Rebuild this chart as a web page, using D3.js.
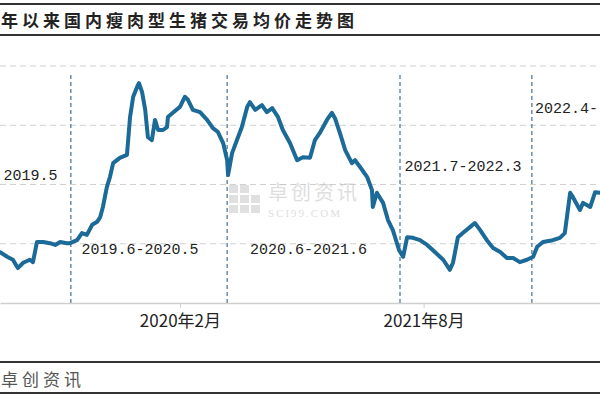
<!DOCTYPE html>
<html><head><meta charset="utf-8">
<script src="https://cdn.jsdelivr.net/npm/d3@7"></script>
<style>
html,body{margin:0;padding:0;background:#fff;}
svg{display:block;}
</style></head>
<body>
<svg id="c" width="600" height="400"></svg>
<script>
const title = "年以来国内瘦肉型生猪交易均价走势图";
const source = "卓创资讯";
const tickDates = ["2020-02-01", "2021-08-01"];
const tickLabels = ["2020年2月", "2021年8月"];
const dividerDates = ["2019-06-01", "2020-05-17", "2021-06-09", "2022-04-01"];
const periodLabels = ["2019.5", "2019.6-2020.5", "2020.6-2021.6", "2021.7-2022.3", "2022.4-"];
const periodLabelDates = ["2019-05-02", "2019-06-25", "2020-07-07", "2021-06-19", "2022-04-08"];
const periodLabelValues = [25.8, 13.3, 13.3, 27.2, 37.0];
const gridValues = [15, 25, 35, 45];
const dates = [
"2018-12-24","2019-01-09","2019-01-22","2019-02-02","2019-02-14","2019-03-01","2019-03-08","2019-03-17","2019-03-31","2019-04-15",
"2019-04-27","2019-05-08","2019-05-23","2019-05-30","2019-06-15","2019-06-26","2019-07-07","2019-07-19","2019-07-30","2019-08-06",
"2019-08-12","2019-08-21","2019-08-28","2019-09-04","2019-09-19","2019-10-05","2019-10-12","2019-10-19","2019-10-28","2019-11-01",
"2019-11-08","2019-11-15","2019-11-21","2019-11-30","2019-12-07","2019-12-14","2019-12-25","2020-01-03","2020-01-05","2020-01-16",
"2020-02-01","2020-02-12","2020-02-19","2020-03-01","2020-03-17","2020-04-02","2020-04-15","2020-04-26","2020-05-08","2020-05-17",
"2020-05-19","2020-05-28","2020-06-08","2020-06-19","2020-07-01","2020-07-07","2020-07-19","2020-08-03","2020-08-14","2020-08-26",
"2020-09-08","2020-09-19","2020-10-05","2020-10-21","2020-11-03","2020-11-19","2020-11-30","2020-12-11","2020-12-27","2021-01-07",
"2021-01-14","2021-01-25","2021-02-06","2021-02-21","2021-02-28","2021-03-11","2021-03-27","2021-04-07","2021-04-09","2021-04-18",
"2021-05-02","2021-05-13","2021-05-24","2021-06-07","2021-06-16","2021-06-25","2021-07-08","2021-07-24","2021-08-09","2021-08-22",
"2021-09-14","2021-09-29","2021-10-06","2021-10-17","2021-10-28","2021-11-13","2021-11-24","2021-12-06","2021-12-21","2022-01-04",
"2022-01-20","2022-02-04","2022-02-18","2022-03-05","2022-03-21","2022-04-04","2022-04-13","2022-04-26","2022-05-18","2022-06-03",
"2022-06-14","2022-06-26","2022-07-02","2022-07-18","2022-07-25","2022-08-10","2022-08-21","2022-09-01"];
const prices = [
13.6,12.8,12.3,10.9,11.8,12.3,11.9,15.3,15.3,15.1,
14.8,15.3,15.1,15.1,15.6,16.8,16.5,18.2,18.7,19.5,
21.2,24.6,26.3,28.6,29.5,30.0,36.4,39.8,41.5,42.1,
40.6,37.6,33.0,32.5,35.9,34.2,34.2,34.7,36.4,37.1,
38.1,39.8,39.3,37.6,37.2,35.9,34.5,33.9,32.0,29.1,
26.6,30.3,32.5,34.7,38.1,38.9,37.6,38.4,37.2,37.9,
36.4,34.2,32.0,29.1,29.6,29.5,32.5,33.7,35.9,37.1,
36.2,33.7,30.8,28.6,29.1,28.0,26.3,24.1,21.2,23.6,
21.9,19.0,17.3,13.9,12.8,16.1,16.0,15.6,14.8,13.9,
12.3,10.6,11.8,16.1,16.8,17.8,18.5,17.3,15.6,14.3,
13.6,12.6,12.6,11.9,12.3,12.8,14.5,15.3,15.6,16.0,
16.8,23.6,22.9,20.7,21.9,21.2,23.7,23.6];
const xDomain = ["2018-12-24", "2022-09-01"];
const yDomain = [5, 45];

const parse = d3.timeParse("%Y-%m-%d");
const data = dates.map((d, i) => ({date: parse(d), v: prices[i]}));

const svg = d3.select("#c");
const W = 600, H = 400;
const plotTop = 66, plotBottom = 303;
const x = d3.scaleTime().domain(xDomain.map(parse)).range([0, W]);
const y = d3.scaleLinear().domain(yDomain).range([plotBottom, plotTop]);

svg.append("rect").attr("width", W).attr("height", H).attr("fill", "#fff");

// title bar
svg.append("line").attr("x1", 0).attr("x2", W).attr("y1", 4).attr("y2", 4).attr("stroke", "#333").attr("stroke-width", 2);
svg.append("line").attr("x1", 0).attr("x2", W).attr("y1", 35).attr("y2", 35).attr("stroke", "#333").attr("stroke-width", 2);
svg.append("text").attr("x", 1).attr("y", 27).text(title)
  .attr("font-family", "'Noto Sans CJK SC', sans-serif").attr("font-weight", 700)
  .attr("font-size", 17).attr("letter-spacing", 4).attr("fill", "#222");

// gridlines
svg.append("g").selectAll("line").data(gridValues).join("line")
  .attr("x1", 0).attr("x2", W).attr("y1", d => y(d)).attr("y2", d => y(d))
  .attr("stroke", "#d0d0d0").attr("stroke-width", 1).attr("stroke-dasharray", "6,4");

// watermark
const wm = svg.append("g").attr("opacity", 0.55);
wm.selectAll("rect").data(d3.range(9)).join("rect")
  .attr("x", i => 229 + (i % 3) * 11).attr("y", i => 185 + Math.floor(i / 3) * 10)
  .attr("width", 9).attr("height", 8).attr("fill", i => (i === 2 ? "#fff" : "#c8c8c8"));
wm.append("text").attr("x", 268).attr("y", 200).text("卓创资讯")
  .attr("font-family", "'Noto Sans CJK SC', sans-serif").attr("font-size", 20).attr("letter-spacing", 3).attr("fill", "#c4c4c4");
wm.append("text").attr("x", 268).attr("y", 217).text("SCI99.COM")
  .attr("font-family", "'Liberation Serif', serif").attr("font-size", 11).attr("letter-spacing", 2).attr("fill", "#c4c4c4");

// dividers
svg.append("g").selectAll("line").data(dividerDates).join("line")
  .attr("x1", d => x(parse(d))).attr("x2", d => x(parse(d)))
  .attr("y1", 75).attr("y2", plotBottom)
  .attr("stroke", "#5f84a3").attr("stroke-width", 1.4).attr("stroke-dasharray", "4,3");

// axis
const xAxis = d3.axisBottom(x).tickValues(tickDates.map(parse))
  .tickFormat((d, i) => tickLabels[i]).tickSize(5).tickSizeOuter(0);
const ax = svg.append("g").attr("transform", `translate(0,${plotBottom})`).call(xAxis);
ax.select(".domain").attr("stroke", "#cfcfcf").attr("stroke-width", 1.5);
ax.selectAll(".tick line").attr("stroke", "#cfcfcf");
ax.selectAll(".tick text").attr("font-family", "'Noto Sans CJK SC', sans-serif")
  .attr("font-size", 17).attr("fill", "#222").attr("dy", "0.95em");

// line
svg.append("path").datum(data)
  .attr("fill", "none").attr("stroke", "#1b6a98").attr("stroke-width", 4)
  .attr("stroke-linejoin", "round").attr("stroke-linecap", "round")
  .attr("d", d3.line().x(d => x(d.date)).y(d => y(d.v)));

// period labels
svg.append("g").selectAll("text").data(periodLabels).join("text")
  .attr("x", (d, i) => x(parse(periodLabelDates[i])))
  .attr("y", (d, i) => y(periodLabelValues[i]))
  .attr("text-anchor", (d, i) => (i === 0 ? "end" : "start"))
  .text(d => d)
  .attr("font-family", "'Liberation Mono', monospace").attr("font-size", 15)
  .attr("fill", "#222");

// footer
svg.append("line").attr("x1", 0).attr("x2", W).attr("y1", 362).attr("y2", 362).attr("stroke", "#333").attr("stroke-width", 2);
svg.append("line").attr("x1", 0).attr("x2", W).attr("y1", 393).attr("y2", 393).attr("stroke", "#333").attr("stroke-width", 2);
svg.append("text").attr("x", 1).attr("y", 386).text(source)
  .attr("font-family", "'Noto Sans CJK SC', sans-serif").attr("font-size", 17)
  .attr("letter-spacing", 4).attr("fill", "#555");
</script>
</body></html>
